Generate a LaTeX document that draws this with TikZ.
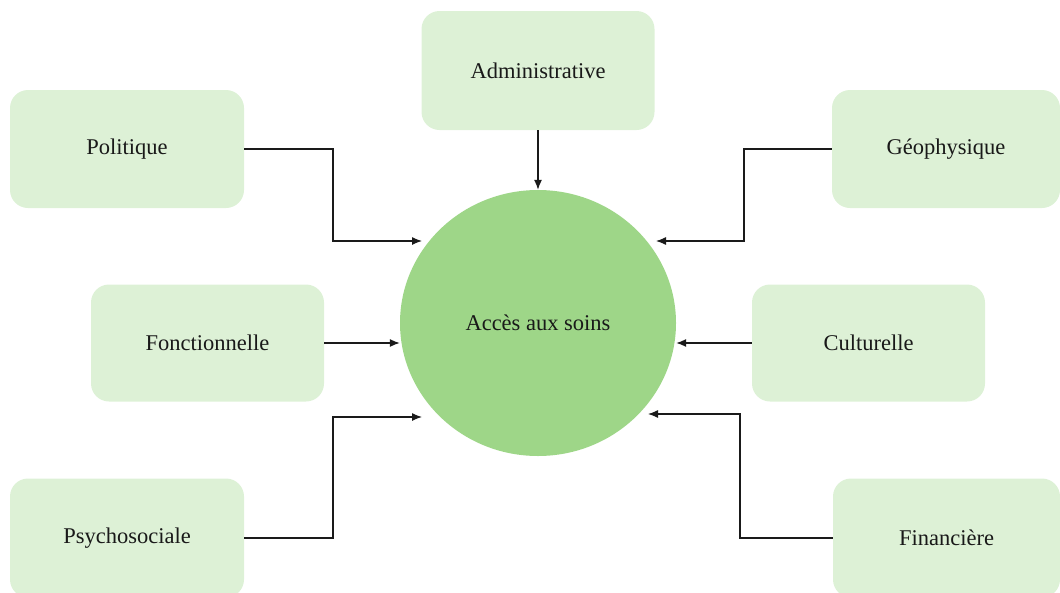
\documentclass[tikz,border=0pt]{standalone}
\usepackage{fontspec}
\setmainfont{Liberation Serif}
\usetikzlibrary{arrows.meta,shapes.geometric}
\definecolor{boxfill}{HTML}{DDF1D6}
\definecolor{circfill}{HTML}{9ED688}
\definecolor{linec}{HTML}{1A1A1A}
\tikzset{
  factor/.style={rectangle, rounded corners=18pt, fill=boxfill, draw=none,
    minimum height=118pt, inner sep=0pt, font=\fontsize{22.5}{26}\selectfont, text=black!90},
  center/.style={ellipse, fill=circfill, draw=none, minimum width=276pt, minimum height=266pt,
    inner sep=0pt, font=\fontsize{22.5}{26}\selectfont, text=black!90},
  arr/.style={draw=linec, line width=1.2pt, -{Latex[length=10pt,width=8pt]}}
}
\begin{document}
\begin{tikzpicture}[x=1pt,y=-1pt]
\useasboundingbox (0,0) rectangle (1060,592);
\node[center] (c) at (538,323) {Accès aux soins};
\node[factor, minimum width=233pt, minimum height=119pt] (adm) at (538,70.5) {Administrative};
\node[factor, minimum width=234pt] (pol) at (127,149) {Politique};
\node[factor, minimum width=228pt] (geo) at (946,149) {Géophysique};
\node[factor, minimum width=233pt, minimum height=117pt] (fon) at (207.5,343) {Fonctionnelle};
\node[factor, minimum width=233pt, minimum height=117pt] (cul) at (868.5,343) {Culturelle};
\node[factor, minimum width=234pt, minimum height=119pt] (psy) at (127,538) {Psychosociale};
\node[factor, minimum width=227pt, minimum height=119pt] (fin) at (946.5,538) {Financière};
\coordinate (polb) at (333,241);
\coordinate (pole) at (422,241);
\coordinate (geob) at (744,241);
\coordinate (geoe) at (656,241);
\coordinate (psyb) at (333,417);
\coordinate (psye) at (422,417);
\coordinate (finb) at (740,414);
\coordinate (fine) at (648,414);
\draw[arr] (adm.south) -- (c.north);
\draw[arr] (pol.east) -| (polb) -- (pole);
\draw[arr] (geo.west) -| (geob) -- (geoe);
\draw[arr] (fon.east) -- (fon.east -| c.west);
\draw[arr] (cul.west) -- (cul.west -| c.east);
\draw[arr] (psy.east) -| (psyb) -- (psye);
\draw[arr] (fin.west) -| (finb) -- (fine);
\end{tikzpicture}
\end{document}
